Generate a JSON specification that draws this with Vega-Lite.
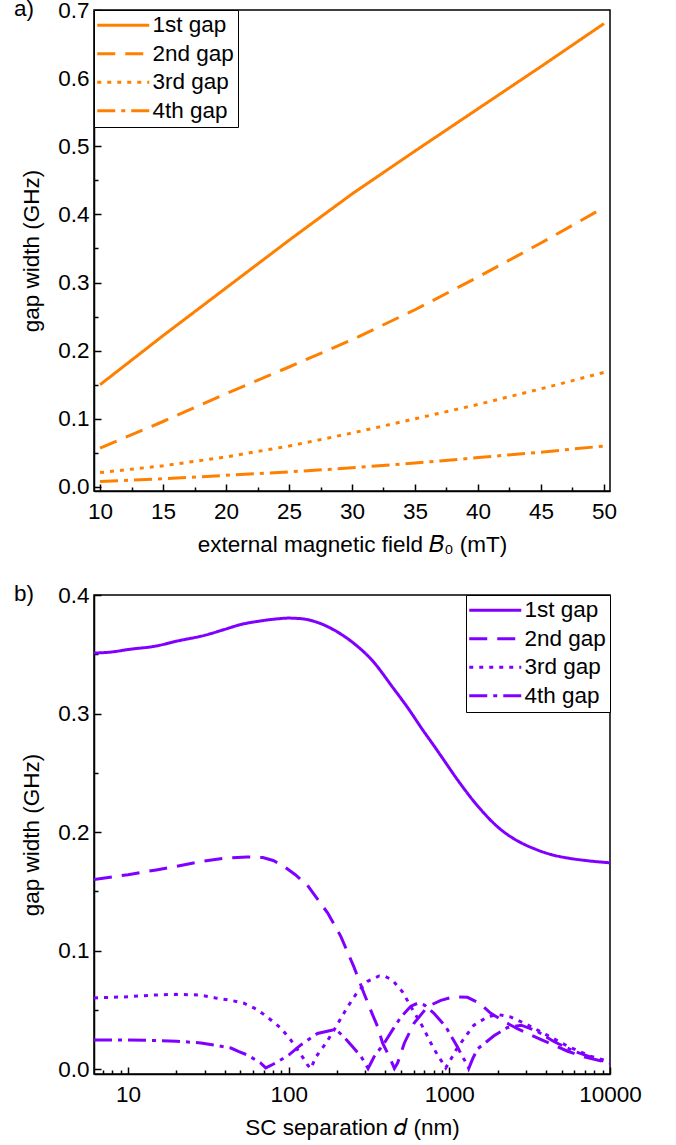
{
  "$schema": "https://vega.github.io/schema/vega-lite/v6.json",
  "padding": {"left": 13, "top": -4, "right": 10, "bottom": 0},
  "bounds": "flush",
  "spacing": 104,
  "config": {
    "font": "Liberation Sans",
    "view": {"stroke": "black", "strokeWidth": 1.5},
    "axis": {
      "grid": false,
      "domainColor": "black",
      "domainWidth": 1.5,
      "tickColor": "black",
      "tickWidth": 1.5,
      "labelFont": "Liberation Sans",
      "labelFontSize": 22.5,
      "labelColor": "black",
      "titleFont": "Liberation Sans",
      "titleFontSize": 22.5,
      "titleFontWeight": "normal",
      "titleColor": "black",
      "labelOverlap": false,
      "labelFlush": false
    },
    "legend": {
      "strokeColor": "black",
      "strokeWidth": 1,
      "fillColor": "white",
      "padding": 4,
      "labelFont": "Liberation Sans",
      "labelFontSize": 22.5,
      "labelColor": "black",
      "rowPadding": 5.5,
      "symbolType": "M-26,0H26",
      "symbolSize": 4,
      "symbolStrokeWidth": 3,
      "symbolOffset": 14,
      "labelOffset": 18,
      "offset": 0
    },
    "title": {"font": "Liberation Sans", "fontSize": 22.5, "fontWeight": "normal", "color": "black"}
  },
  "datasets": {
    "a": [
      {"B": 10, "w": 0.150, "gap": "1st gap"}, {"B": 15, "w": 0.222, "gap": "1st gap"}, {"B": 20, "w": 0.292, "gap": "1st gap"}, {"B": 25, "w": 0.362, "gap": "1st gap"}, {"B": 30, "w": 0.430, "gap": "1st gap"}, {"B": 35, "w": 0.493, "gap": "1st gap"}, {"B": 40, "w": 0.555, "gap": "1st gap"}, {"B": 45, "w": 0.617, "gap": "1st gap"}, {"B": 50, "w": 0.680, "gap": "1st gap"},
      {"B": 10, "w": 0.057, "gap": "2nd gap"}, {"B": 15, "w": 0.096, "gap": "2nd gap"}, {"B": 20, "w": 0.137, "gap": "2nd gap"}, {"B": 25, "w": 0.176, "gap": "2nd gap"}, {"B": 30, "w": 0.216, "gap": "2nd gap"}, {"B": 35, "w": 0.260, "gap": "2nd gap"}, {"B": 40, "w": 0.308, "gap": "2nd gap"}, {"B": 45, "w": 0.358, "gap": "2nd gap"}, {"B": 50, "w": 0.410, "gap": "2nd gap"},
      {"B": 10, "w": 0.021, "gap": "3rd gap"}, {"B": 15, "w": 0.031, "gap": "3rd gap"}, {"B": 20, "w": 0.044, "gap": "3rd gap"}, {"B": 25, "w": 0.060, "gap": "3rd gap"}, {"B": 30, "w": 0.079, "gap": "3rd gap"}, {"B": 35, "w": 0.100, "gap": "3rd gap"}, {"B": 40, "w": 0.121, "gap": "3rd gap"}, {"B": 45, "w": 0.144, "gap": "3rd gap"}, {"B": 50, "w": 0.168, "gap": "3rd gap"},
      {"B": 10, "w": 0.008, "gap": "4th gap"}, {"B": 15, "w": 0.012, "gap": "4th gap"}, {"B": 20, "w": 0.017, "gap": "4th gap"}, {"B": 25, "w": 0.022, "gap": "4th gap"}, {"B": 30, "w": 0.028, "gap": "4th gap"}, {"B": 35, "w": 0.035, "gap": "4th gap"}, {"B": 40, "w": 0.043, "gap": "4th gap"}, {"B": 45, "w": 0.051, "gap": "4th gap"}, {"B": 50, "w": 0.060, "gap": "4th gap"}
    ],
    "b": [
      {"d": 6.14, "w": 0.351, "gap": "1st gap"}, {"d": 8, "w": 0.352, "gap": "1st gap"}, {"d": 10, "w": 0.354, "gap": "1st gap"}, {"d": 15, "w": 0.357, "gap": "1st gap"}, {"d": 20, "w": 0.361, "gap": "1st gap"}, {"d": 30, "w": 0.366, "gap": "1st gap"}, {"d": 40, "w": 0.371, "gap": "1st gap"}, {"d": 50, "w": 0.375, "gap": "1st gap"}, {"d": 66, "w": 0.378, "gap": "1st gap"}, {"d": 80, "w": 0.3795, "gap": "1st gap"}, {"d": 100, "w": 0.3805, "gap": "1st gap"}, {"d": 120, "w": 0.380, "gap": "1st gap"}, {"d": 150, "w": 0.377, "gap": "1st gap"}, {"d": 200, "w": 0.369, "gap": "1st gap"}, {"d": 250, "w": 0.360, "gap": "1st gap"}, {"d": 330, "w": 0.345, "gap": "1st gap"}, {"d": 450, "w": 0.321, "gap": "1st gap"}, {"d": 550, "w": 0.305, "gap": "1st gap"}, {"d": 684, "w": 0.286, "gap": "1st gap"}, {"d": 800, "w": 0.273, "gap": "1st gap"}, {"d": 900, "w": 0.263, "gap": "1st gap"}, {"d": 1125, "w": 0.244, "gap": "1st gap"}, {"d": 1500, "w": 0.222, "gap": "1st gap"}, {"d": 2094, "w": 0.202, "gap": "1st gap"}, {"d": 2700, "w": 0.192, "gap": "1st gap"}, {"d": 3360, "w": 0.186, "gap": "1st gap"}, {"d": 4300, "w": 0.181, "gap": "1st gap"}, {"d": 5470, "w": 0.178, "gap": "1st gap"}, {"d": 7000, "w": 0.176, "gap": "1st gap"}, {"d": 10000, "w": 0.174, "gap": "1st gap"},
      {"d": 6.14, "w": 0.160, "gap": "2nd gap"}, {"d": 10, "w": 0.164, "gap": "2nd gap"}, {"d": 15, "w": 0.168, "gap": "2nd gap"}, {"d": 20, "w": 0.171, "gap": "2nd gap"}, {"d": 28.4, "w": 0.175, "gap": "2nd gap"}, {"d": 40, "w": 0.178, "gap": "2nd gap"}, {"d": 55, "w": 0.179, "gap": "2nd gap"}, {"d": 69, "w": 0.1785, "gap": "2nd gap"}, {"d": 80, "w": 0.176, "gap": "2nd gap"}, {"d": 93.5, "w": 0.171, "gap": "2nd gap"}, {"d": 110, "w": 0.164, "gap": "2nd gap"}, {"d": 131, "w": 0.155, "gap": "2nd gap"}, {"d": 150, "w": 0.144, "gap": "2nd gap"}, {"d": 175, "w": 0.1316, "gap": "2nd gap"}, {"d": 211, "w": 0.112, "gap": "2nd gap"}, {"d": 255, "w": 0.086, "gap": "2nd gap"}, {"d": 294, "w": 0.064, "gap": "2nd gap"}, {"d": 330, "w": 0.047, "gap": "2nd gap"}, {"d": 357, "w": 0.036, "gap": "2nd gap"}, {"d": 384, "w": 0.022, "gap": "2nd gap"}, {"d": 423, "w": 0.0104, "gap": "2nd gap"}, {"d": 455, "w": 0.0005, "gap": "2nd gap"}, {"d": 476, "w": 0.005, "gap": "2nd gap"}, {"d": 525, "w": 0.022, "gap": "2nd gap"}, {"d": 604, "w": 0.0388, "gap": "2nd gap"}, {"d": 731, "w": 0.0526, "gap": "2nd gap"}, {"d": 885, "w": 0.058, "gap": "2nd gap"}, {"d": 1067, "w": 0.061, "gap": "2nd gap"}, {"d": 1297, "w": 0.0605, "gap": "2nd gap"}, {"d": 1535, "w": 0.0557, "gap": "2nd gap"}, {"d": 1811, "w": 0.047, "gap": "2nd gap"}, {"d": 2200, "w": 0.040, "gap": "2nd gap"}, {"d": 2650, "w": 0.034, "gap": "2nd gap"}, {"d": 3700, "w": 0.025, "gap": "2nd gap"}, {"d": 5450, "w": 0.015, "gap": "2nd gap"}, {"d": 7000, "w": 0.010, "gap": "2nd gap"}, {"d": 10000, "w": 0.005, "gap": "2nd gap"},
      {"d": 6.14, "w": 0.060, "gap": "3rd gap"}, {"d": 8, "w": 0.0605, "gap": "3rd gap"}, {"d": 10, "w": 0.061, "gap": "3rd gap"}, {"d": 15, "w": 0.0625, "gap": "3rd gap"}, {"d": 20, "w": 0.063, "gap": "3rd gap"}, {"d": 28.4, "w": 0.0624, "gap": "3rd gap"}, {"d": 35, "w": 0.060, "gap": "3rd gap"}, {"d": 43.7, "w": 0.058, "gap": "3rd gap"}, {"d": 52.7, "w": 0.0555, "gap": "3rd gap"}, {"d": 64, "w": 0.050, "gap": "3rd gap"}, {"d": 75, "w": 0.043, "gap": "3rd gap"}, {"d": 89.5, "w": 0.0345, "gap": "3rd gap"}, {"d": 103, "w": 0.0245, "gap": "3rd gap"}, {"d": 114, "w": 0.016, "gap": "3rd gap"}, {"d": 125, "w": 0.008, "gap": "3rd gap"}, {"d": 131, "w": 0.0034, "gap": "3rd gap"}, {"d": 137, "w": 0.0003, "gap": "3rd gap"}, {"d": 148, "w": 0.0104, "gap": "3rd gap"}, {"d": 171, "w": 0.022, "gap": "3rd gap"}, {"d": 197, "w": 0.0357, "gap": "3rd gap"}, {"d": 233, "w": 0.0526, "gap": "3rd gap"}, {"d": 268, "w": 0.065, "gap": "3rd gap"}, {"d": 310, "w": 0.074, "gap": "3rd gap"}, {"d": 366, "w": 0.0785, "gap": "3rd gap"}, {"d": 400, "w": 0.078, "gap": "3rd gap"}, {"d": 443, "w": 0.075, "gap": "3rd gap"}, {"d": 512, "w": 0.065, "gap": "3rd gap"}, {"d": 576, "w": 0.0526, "gap": "3rd gap"}, {"d": 680, "w": 0.036, "gap": "3rd gap"}, {"d": 767, "w": 0.022, "gap": "3rd gap"}, {"d": 850, "w": 0.011, "gap": "3rd gap"}, {"d": 885, "w": 0.0076, "gap": "3rd gap"}, {"d": 950, "w": 0.001, "gap": "3rd gap"}, {"d": 1000, "w": 0.006, "gap": "3rd gap"}, {"d": 1100, "w": 0.016, "gap": "3rd gap"}, {"d": 1268, "w": 0.028, "gap": "3rd gap"}, {"d": 1422, "w": 0.037, "gap": "3rd gap"}, {"d": 1730, "w": 0.044, "gap": "3rd gap"}, {"d": 2000, "w": 0.046, "gap": "3rd gap"}, {"d": 2400, "w": 0.044, "gap": "3rd gap"}, {"d": 3000, "w": 0.038, "gap": "3rd gap"}, {"d": 4000, "w": 0.029, "gap": "3rd gap"}, {"d": 5500, "w": 0.019, "gap": "3rd gap"}, {"d": 7500, "w": 0.011, "gap": "3rd gap"}, {"d": 10000, "w": 0.006, "gap": "3rd gap"},
      {"d": 6.14, "w": 0.0245, "gap": "4th gap"}, {"d": 10, "w": 0.0245, "gap": "4th gap"}, {"d": 15, "w": 0.024, "gap": "4th gap"}, {"d": 20, "w": 0.0235, "gap": "4th gap"}, {"d": 28.4, "w": 0.022, "gap": "4th gap"}, {"d": 35, "w": 0.020, "gap": "4th gap"}, {"d": 43.7, "w": 0.0177, "gap": "4th gap"}, {"d": 49, "w": 0.0146, "gap": "4th gap"}, {"d": 55, "w": 0.012, "gap": "4th gap"}, {"d": 60, "w": 0.009, "gap": "4th gap"}, {"d": 67, "w": 0.005, "gap": "4th gap"}, {"d": 72, "w": 0.001, "gap": "4th gap"}, {"d": 80, "w": 0.004, "gap": "4th gap"}, {"d": 90, "w": 0.008, "gap": "4th gap"}, {"d": 100, "w": 0.0118, "gap": "4th gap"}, {"d": 119, "w": 0.0203, "gap": "4th gap"}, {"d": 151, "w": 0.030, "gap": "4th gap"}, {"d": 188, "w": 0.033, "gap": "4th gap"}, {"d": 200, "w": 0.0325, "gap": "4th gap"}, {"d": 221, "w": 0.027, "gap": "4th gap"}, {"d": 250, "w": 0.0188, "gap": "4th gap"}, {"d": 282, "w": 0.0105, "gap": "4th gap"}, {"d": 302, "w": 0.004, "gap": "4th gap"}, {"d": 312, "w": 0.0005, "gap": "4th gap"}, {"d": 340, "w": 0.0104, "gap": "4th gap"}, {"d": 394, "w": 0.022, "gap": "4th gap"}, {"d": 443, "w": 0.033, "gap": "4th gap"}, {"d": 500, "w": 0.044, "gap": "4th gap"}, {"d": 576, "w": 0.053, "gap": "4th gap"}, {"d": 640, "w": 0.0557, "gap": "4th gap"}, {"d": 700, "w": 0.054, "gap": "4th gap"}, {"d": 802, "w": 0.047, "gap": "4th gap"}, {"d": 950, "w": 0.0357, "gap": "4th gap"}, {"d": 1122, "w": 0.0188, "gap": "4th gap"}, {"d": 1200, "w": 0.011, "gap": "4th gap"}, {"d": 1297, "w": 0.0034, "gap": "4th gap"}, {"d": 1320, "w": 0.0005, "gap": "4th gap"}, {"d": 1400, "w": 0.009, "gap": "4th gap"}, {"d": 1500, "w": 0.017, "gap": "4th gap"}, {"d": 1896, "w": 0.028, "gap": "4th gap"}, {"d": 2300, "w": 0.035, "gap": "4th gap"}, {"d": 2800, "w": 0.037, "gap": "4th gap"}, {"d": 3500, "w": 0.032, "gap": "4th gap"}, {"d": 4500, "w": 0.023, "gap": "4th gap"}, {"d": 6000, "w": 0.015, "gap": "4th gap"}, {"d": 8000, "w": 0.009, "gap": "4th gap"}, {"d": 10000, "w": 0.005, "gap": "4th gap"}
    ]
  },
  "vconcat": [
    {
      "width": 516,
      "height": 481,
      "title": {"text": "a)", "anchor": "start", "frame": "group", "dx": -80, "dy": 32, "offset": 0, "baseline": "middle"},
      "data": {"name": "a"},
      "mark": {"type": "line", "color": "#ff8000", "strokeWidth": 3, "clip": true},
      "encoding": {
        "x": {
          "field": "B", "type": "quantitative",
          "scale": {"domain": [9.52, 50.48], "nice": false, "zero": false},
          "axis": {
            "title": "external magnetic field 𝐵₀ (mT)",
            "values": [10, 12.5, 15, 17.5, 20, 22.5, 25, 27.5, 30, 32.5, 35, 37.5, 40, 42.5, 45, 47.5, 50],
            "labelExpr": "datum.value % 5 === 0 ? format(datum.value, 'd') : ''",
            "tickSize": {"condition": {"test": "datum.value % 5 === 0", "value": -7}, "value": -4},
            "labelPadding": 16,
            "titlePadding": 8
          }
        },
        "y": {
          "field": "w", "type": "quantitative",
          "scale": {"domain": [-0.006, 0.7], "nice": false, "zero": false},
          "axis": {
            "title": "gap width (GHz)",
            "values": [0, 0.05, 0.1, 0.15, 0.2, 0.25, 0.3, 0.35, 0.4, 0.45, 0.5, 0.55, 0.6, 0.65, 0.7],
            "labelExpr": "abs(datum.value * 10 - round(datum.value * 10)) < 0.001 ? format(datum.value, '.1f') : ''",
            "tickSize": {"condition": {"test": "abs(datum.value * 10 - round(datum.value * 10)) < 0.001", "value": -7}, "value": -4},
            "labelPadding": 12,
            "titlePadding": 14
          }
        },
        "strokeDash": {
          "field": "gap", "type": "nominal",
          "scale": {"domain": ["1st gap", "2nd gap", "3rd gap", "4th gap"], "range": [[1, 0], [18, 10], [4, 6], [18, 6, 4, 6]]},
          "legend": {"title": null, "orient": "top-left", "symbolStrokeColor": "#ff8000"}
        }
      }
    },
    {
      "width": 516,
      "height": 479,
      "title": {"text": "b)", "anchor": "start", "frame": "group", "dx": -80, "dy": 32, "offset": 0, "baseline": "middle"},
      "data": {"name": "b"},
      "encoding": {
        "x": {
          "field": "d", "type": "quantitative",
          "scale": {"type": "log", "domain": [6.14, 10000], "nice": false},
          "axis": {
            "title": "SC separation 𝑑 (nm)",
            "values": [7, 8, 9, 10, 20, 30, 40, 50, 60, 70, 80, 90, 100, 200, 300, 400, 500, 600, 700, 800, 900, 1000, 2000, 3000, 4000, 5000, 6000, 7000, 8000, 9000, 10000],
            "labelExpr": "indexof([10, 100, 1000, 10000], datum.value) >= 0 ? format(datum.value, 'd') : ''",
            "tickSize": {"condition": {"test": "indexof([10, 100, 1000, 10000], datum.value) >= 0", "value": -7}, "value": -4},
            "labelPadding": 16,
            "titlePadding": 8
          }
        },
        "y": {
          "field": "w", "type": "quantitative",
          "scale": {"domain": [-0.0042, 0.4], "nice": false, "zero": false},
          "axis": {
            "title": "gap width (GHz)",
            "values": [0, 0.05, 0.1, 0.15, 0.2, 0.25, 0.3, 0.35, 0.4],
            "labelExpr": "abs(datum.value * 10 - round(datum.value * 10)) < 0.001 ? format(datum.value, '.1f') : ''",
            "tickSize": {"condition": {"test": "abs(datum.value * 10 - round(datum.value * 10)) < 0.001", "value": -7}, "value": -4},
            "labelPadding": 12,
            "titlePadding": 14
          }
        },
        "strokeDash": {
          "field": "gap", "type": "nominal",
          "scale": {"domain": ["1st gap", "2nd gap", "3rd gap", "4th gap"], "range": [[1, 0], [18, 10], [4, 6], [18, 6, 4, 6]]},
          "legend": {"title": null, "orient": "top-right", "symbolStrokeColor": "#8000ff"}
        }
      },
      "layer": [
        {
          "transform": [{"filter": "datum.gap === '1st gap'"}],
          "mark": {"type": "line", "color": "#8000ff", "strokeWidth": 3, "clip": true, "interpolate": "monotone"}
        },
        {
          "transform": [{"filter": "datum.gap !== '1st gap'"}],
          "mark": {"type": "line", "color": "#8000ff", "strokeWidth": 3, "clip": true}
        }
      ]
    }
  ],
  "resolve": {"scale": {"x": "independent", "y": "independent", "strokeDash": "independent"}}
}
